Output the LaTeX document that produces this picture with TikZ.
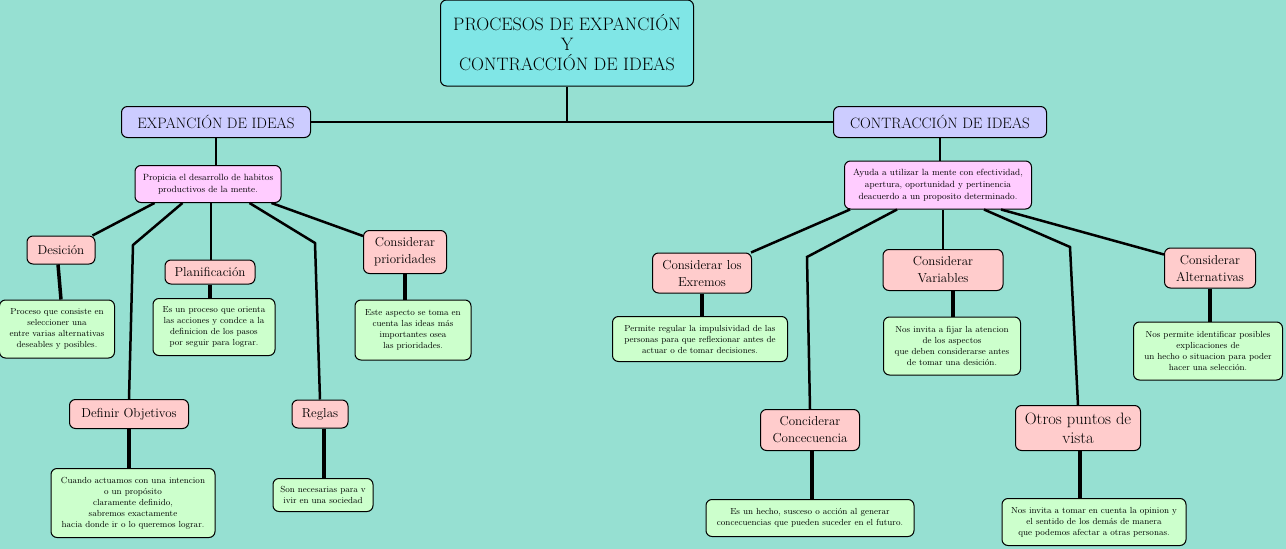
\documentclass[tikz,border=0pt]{standalone}
\usepackage{tikz}
\usetikzlibrary{calc, positioning}

\definecolor{fondo}{RGB}{150,224,210}
\definecolor{cian}{RGB}{128,230,230}
\definecolor{lila}{RGB}{204,204,255}
\definecolor{malva}{RGB}{255,204,255}
\definecolor{rosa}{RGB}{255,204,204}
\definecolor{verde}{RGB}{204,255,204}

\begin{document}
\begin{tikzpicture}[x=1pt, y=-1pt,
    caja/.style={draw, line width=1pt, rounded corners=6pt, align=center, inner sep=2pt},
    titulo/.style={caja, fill=cian, font=\fontsize{18}{20}\selectfont},
    rama/.style={caja, fill=lila, font=\fontsize{15}{17}\selectfont},
    idea/.style={caja, fill=malva, font=\fontsize{9}{12}\selectfont},
    tema/.style={caja, fill=rosa, font=\fontsize{13}{17}\selectfont},
    nota/.style={caja, fill=verde, font=\fontsize{8.8}{11}\selectfont},
    enlace/.style={line width=2.5pt},
    tallo/.style={line width=3.5pt}]

    \fill[fondo] (0,0) rectangle (1286,549);
    \useasboundingbox (0,0) rectangle (1286,549);

    \node[titulo, minimum width=253, minimum height=86] (tit) at (567,43) {PROCESOS DE EXPANCIÓN\\Y\\CONTRACCIÓN DE IDEAS};

    \node[rama, minimum width=189, minimum height=31] (exp) at (216,122) {EXPANCIÓN DE IDEAS};
    \node[rama, minimum width=213, minimum height=31] (con) at (940,122) {CONTRACCIÓN DE IDEAS};

    \node[idea, minimum width=146, minimum height=37] (prop) at (208,184) {Propicia el desarrollo de habitos\\productivos de la mente.};
    \node[idea, minimum width=187, minimum height=48] (ayuda) at (938,185) {Ayuda a utilizar la mente con efectividad,\\apertura, oportunidad y pertinencia\\deacuerdo a un proposito determinado.};

    \node[tema, minimum width=68, minimum height=28] (desicion) at (61,250) {Desición};
    \node[tema, minimum width=90, minimum height=24] (planif) at (210,272) {Planificación};
    \node[tema, minimum width=83, minimum height=43] (prior) at (405,252) {Considerar\\prioridades};
    \node[tema, minimum width=119, minimum height=29] (objet) at (129,414) {Definir Objetivos};
    \node[tema, minimum width=56, minimum height=28] (reglas) at (320,414) {Reglas};

    \node[tema, minimum width=99, minimum height=40] (extremos) at (702,273) {Considerar los\\Exremos};
    \node[tema, minimum width=120, minimum height=41] (variables) at (943,270) {Considerar\\Variables};
    \node[tema, minimum width=91, minimum height=40] (altern) at (1210,268) {Considerar\\Alternativas};
    \node[tema, minimum width=99, minimum height=41] (conse) at (810,430) {Conciderar\\Concecuencia};
    \node[tema, minimum width=125, minimum height=45, font=\fontsize{16.5}{19}\selectfont] (otros) at (1078,428) {Otros puntos de\\vista};

    \node[nota, minimum width=115, minimum height=58] (n-desicion) at (57,329) {Proceso que consiste en\\seleccioner una\\entre varias alternativas\\deseables y posibles.};
    \node[nota, minimum width=122, minimum height=57] (n-planif) at (214,327) {Es un proceso que orienta\\las acciones y condce a la\\definicion de los pasos\\por seguir para lograr.};
    \node[nota, minimum width=116, minimum height=60] (n-prior) at (413,330) {Este aspecto se toma en\\cuenta las ideas más\\importantes osea\\las prioridades.};
    \node[nota, minimum width=164, minimum height=69] (n-objet) at (133,503) {Cuando actuamos con una intencion\\o un propósito\\claramente definido,\\sabremos exactamente\\hacia donde ir o lo queremos lograr.};
    \node[nota, minimum width=100, minimum height=33] (n-reglas) at (323,495) {Son necesarias para v\\ivir en una sociedad};

    \node[nota, minimum width=175, minimum height=45] (n-extremos) at (700,339) {Permite regular la impulsividad de las\\personas para que reflexionar antes de\\actuar o de tomar decisiones.};
    \node[nota, minimum width=137, minimum height=58] (n-variables) at (952,346) {Nos invita a fijar la atencion\\de los aspectos\\que deben considerarse antes\\de tomar una desición.};
    \node[nota, minimum width=149, minimum height=58] (n-altern) at (1208,351) {Nos permite identificar posibles\\explicaciones de\\un hecho o situacion para poder\\hacer una selección.};
    \node[nota, minimum width=208, minimum height=37] (n-conse) at (810,518) {Es un hecho, susceso o acción al generar\\concecuencias que pueden suceder en el futuro.};
    \node[nota, minimum width=184, minimum height=47] (n-otros) at (1094,522) {Nos invita a tomar en cuenta la opinion y\\el sentido de los demás de manera\\que podemos afectar a otras personas.};

    \coordinate (cruce) at (tit.south |- exp.east);
    \coordinate (codo-objet) at (133,245);
    \coordinate (codo-reglas) at (315,243);
    \coordinate (codo-conse) at (807,257);
    \coordinate (codo-otros) at (1070,247);

    \draw[enlace] (tit.south) -- (cruce);
    \draw[enlace] (exp.east) -- (con.west);
    \draw[enlace] (exp.south) -- (prop.north -| exp.south);
    \draw[enlace] (con.south) -- (ayuda.north -| con.south);

    \draw[enlace] ([xshift=20pt]prop.south west) -- ([xshift=-3pt]desicion.north east);
    \draw[enlace] ([xshift=48pt]prop.south west) -- (codo-objet) -- (objet.north);
    \draw[enlace] ([xshift=3pt]prop.south) -- ([xshift=3pt]planif.north -| prop.south);
    \draw[enlace] ([xshift=115pt]prop.south west) -- (codo-reglas) -- (reglas.north);
    \draw[enlace] ([xshift=137pt]prop.south west) -- ([yshift=-6pt]prior.north west);

    \draw[enlace] ([xshift=6pt]ayuda.south west) -- ([xshift=-1pt]extremos.north east);
    \draw[enlace] ([xshift=53pt]ayuda.south west) -- (codo-conse) -- (conse.north);
    \draw[enlace] (variables.north) -- (variables.north |- ayuda.south);
    \draw[enlace] ([xshift=140pt]ayuda.south west) -- (codo-otros) -- (otros.north);
    \draw[enlace] ([xshift=157pt]ayuda.south west) -- ([yshift=-7pt]altern.north west);

    \draw[tallo] ([xshift=-3pt]desicion.south) -- (n-desicion.north -| desicion.south);
    \draw[tallo] (planif.south) -- (n-planif.north -| planif.south);
    \draw[tallo] (prior.south) -- (n-prior.north -| prior.south);
    \draw[tallo] (objet.south) -- (n-objet.north -| objet.south);
    \draw[tallo] ([xshift=4pt]reglas.south) -- ([xshift=4pt]n-reglas.north -| reglas.south);
    \draw[tallo] (extremos.south) -- (n-extremos.north -| extremos.south);
    \draw[tallo] ([xshift=10pt]variables.south) -- ([xshift=10pt]n-variables.north -| variables.south);
    \draw[tallo] (altern.south) -- (n-altern.north -| altern.south);
    \draw[tallo] ([xshift=2pt]conse.south) -- ([xshift=2pt]n-conse.north -| conse.south);
    \draw[tallo] ([xshift=2pt]otros.south) -- ([xshift=2pt]n-otros.north -| otros.south);
\end{tikzpicture}
\end{document}
